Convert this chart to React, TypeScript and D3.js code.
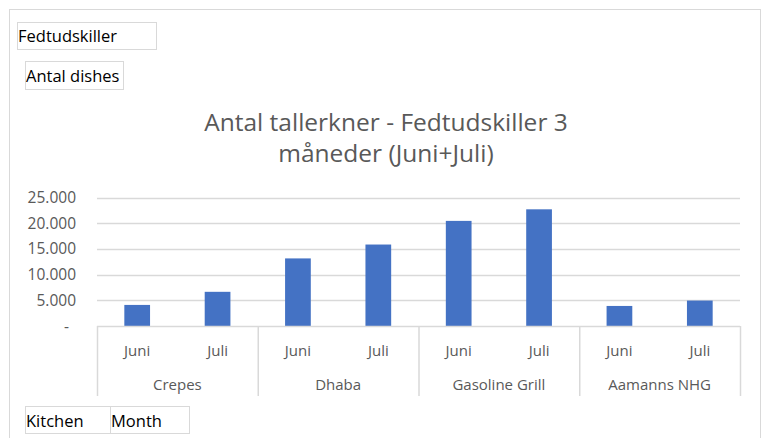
import React from 'react';
import * as d3 from 'd3';

const kitchens = ['Crepes', 'Dhaba', 'Gasoline Grill', 'Aamanns NHG'];
const months = ['Juni', 'Juli'];
const juniValues = [4100, 13150, 20450, 3900];
const juliValues = [6650, 15850, 22700, 4950];
const yTicks = [0, 5000, 10000, 15000, 20000, 25000];
const titleLines = ['Antal tallerkner - Fedtudskiller 3', 'måneder (Juni+Juli)'];

const W = 766;
const H = 438;
const plot = { left: 97, right: 740, top: 197.5, bottom: 326 };
const FONT = "'Open Sans', 'Noto Sans', sans-serif";
const GREY = '#595959';
const LINE = '#d9d9d9';

const locale = d3.formatLocale({ decimal: ',', thousands: '.', grouping: [3], currency: ['kr. ', ''] });
const fmt = locale.format(',d');

export default function App() {
  const x0 = d3.scaleBand().domain(kitchens).range([plot.left, plot.right]);
  const x1 = d3.scaleBand().domain(months).range([0, x0.bandwidth()]);
  const y = d3.scaleLinear().domain([0, 25000]).range([plot.bottom, plot.top]);
  const barW = x1.bandwidth() * 0.32;

  const rows = kitchens.flatMap((k, i) => [
    { kitchen: k, month: 'Juni', value: juniValues[i] },
    { kitchen: k, month: 'Juli', value: juliValues[i] },
  ]);

  return (
    <svg width={W} height={H} style={{ position: 'absolute', left: 0, top: 0, background: '#fff' }}>
      <rect x={9.5} y={9.5} width={751} height={440} fill="#fff" stroke={LINE} />

      {/* pivot field buttons */}
      <g fontFamily={FONT} fontSize={16.5} fill="#000">
        <rect x={17.5} y={22.5} width={139} height={27} fill="#fff" stroke={LINE} />
        <text x={18} y={42}>Fedtudskiller</text>
        <rect x={25.5} y={61.5} width={98} height={28} fill="#fff" stroke={LINE} />
        <text x={26} y={81.5}>Antal dishes</text>
        <rect x={25.5} y={406.5} width={85} height={27} fill="#fff" stroke={LINE} />
        <text x={26} y={426.5}>Kitchen</text>
        <rect x={110.5} y={406.5} width={79} height={27} fill="#fff" stroke={LINE} />
        <text x={111} y={426.5}>Month</text>
      </g>

      {/* title */}
      <g fontFamily={FONT} fontSize={24.5} fill={GREY} textAnchor="middle">
        {titleLines.map((t, i) => (
          <text key={t} x={386} y={131 + i * 31}>{t}</text>
        ))}
      </g>

      {/* gridlines and y labels */}
      <g fontFamily={FONT} fontSize={15.5} fill={GREY}>
        {yTicks.map((t) => (
          <g key={t}>
            {t > 0 && (
              <line x1={plot.left} x2={plot.right} y1={Math.round(y(t)) + 0.5} y2={Math.round(y(t)) + 0.5} stroke={LINE} strokeWidth={1.5} />
            )}
            <text x={t === 0 ? 69 : 76} y={y(t) + 5.5} textAnchor="end">{t === 0 ? '-' : fmt(t)}</text>
          </g>
        ))}
      </g>

      {/* bars */}
      {rows.map((d) => (
        <rect
          key={d.kitchen + d.month}
          x={(x0(d.kitchen) as number) + (x1(d.month) as number) + (x1.bandwidth() - barW) / 2}
          y={y(d.value)}
          width={barW}
          height={plot.bottom - y(d.value)}
          fill="#4472c4"
        />
      ))}

      {/* category axis */}
      <line x1={plot.left} x2={plot.right} y1={plot.bottom + 0.5} y2={plot.bottom + 0.5} stroke={LINE} strokeWidth={1.5} />
      {[...kitchens.map((k) => x0(k) as number), plot.right].map((xv, i) => (
        <line key={i} x1={xv + 0.5} x2={xv + 0.5} y1={plot.bottom} y2={396} stroke={LINE} strokeWidth={1.5} />
      ))}
      <g fontFamily={FONT} fontSize={15} fill={GREY} textAnchor="middle">
        {rows.map((d) => (
          <text
            key={'l' + d.kitchen + d.month}
            x={(x0(d.kitchen) as number) + (x1(d.month) as number) + x1.bandwidth() / 2}
            y={356}
          >
            {d.month}
          </text>
        ))}
        {kitchens.map((k) => (
          <text key={'k' + k} x={(x0(k) as number) + x0.bandwidth() / 2} y={390}>{k}</text>
        ))}
      </g>
    </svg>
  );
}
